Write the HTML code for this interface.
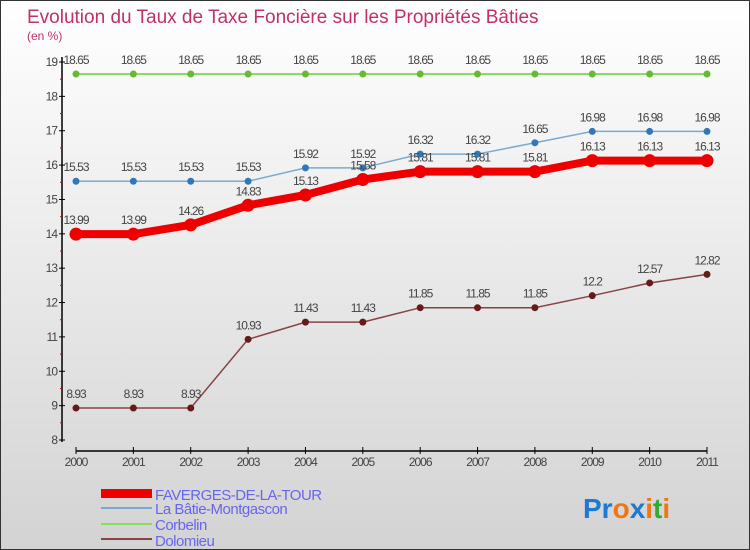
<!DOCTYPE html>
<html><head><meta charset="utf-8"><style>
body{margin:0}
#c{width:748px;height:548px;border:1px solid #333;background:linear-gradient(#ffffff,#d3d3d3);position:relative;overflow:hidden;font-family:"Liberation Sans",sans-serif}
</style></head><body>
<div id="c">
<svg id="s" width="748" height="548">
<text x="26" y="22" font-size="19" fill="#c0306a">Evolution du Taux de Taxe Foncière sur les Propriétés Bâties</text>
<text x="26" y="39" font-size="12" fill="#c0306a">(en %)</text>
<g id="axes"></g><g id="series"></g>
<g>
<rect x="100" y="488" width="51" height="9" fill="#ee0000"/>
<text x="154" y="499" font-size="15" fill="#6666ee" letter-spacing="-0.5">FAVERGES-DE-LA-TOUR</text>
<line x1="100" y1="507" x2="151" y2="507" stroke="#7aaad0" stroke-width="2"/>
<text x="154" y="513" font-size="15" fill="#6666ee" letter-spacing="-0.5">La Bâtie-Montgascon</text>
<line x1="100" y1="523" x2="151" y2="523" stroke="#88dd66" stroke-width="2"/>
<text x="154" y="529" font-size="15" fill="#6666ee" letter-spacing="-0.5">Corbelin</text>
<line x1="100" y1="538" x2="151" y2="538" stroke="#884444" stroke-width="2"/>
<text x="154" y="545" font-size="15" fill="#6666ee" letter-spacing="-0.5">Dolomieu</text>
</g>
<text x="582" y="517" font-size="28" font-weight="bold"><tspan fill="#1a7ad4">Pr</tspan><tspan fill="#ee7711">o</tspan><tspan fill="#1a7ad4">x</tspan><tspan fill="#ee7711">i</tspan><tspan fill="#33aa33">t</tspan><tspan fill="#ee7711">i</tspan></text>
</svg></div>
<script>
const years=["2000","2001","2002","2003","2004","2005","2006","2007","2008","2009","2010","2011"];
const yTicks=[8,9,10,11,12,13,14,15,16,17,18,19];
const faverges=[13.99,13.99,14.26,14.83,15.13,15.58,15.81,15.81,15.81,16.13,16.13,16.13];
const batie=[15.53,15.53,15.53,15.53,15.92,15.92,16.32,16.32,16.65,16.98,16.98,16.98];
const corbelin=[18.65,18.65,18.65,18.65,18.65,18.65,18.65,18.65,18.65,18.65,18.65,18.65];
const dolomieu=[8.93,8.93,8.93,10.93,11.43,11.43,11.85,11.85,11.85,12.2,12.57,12.82];
const NS="http://www.w3.org/2000/svg";
function X(i){return 75+i*(706-75)/(years.length-1);}
function Y(v){return 439-(v-8)*(439-61)/11;}
function mk(t,a,p){const e=document.createElementNS(NS,t);for(const k in a)e.setAttribute(k,a[k]);p.appendChild(e);return e;}
const ax=document.getElementById('axes');
const yl=mk('line',{x1:61,y1:56,x2:61,y2:441,stroke:'#000','stroke-width':1.5},ax);


const xl=mk('line',{x1:75,y1:450,x2:706,y2:450,stroke:'#000','stroke-width':1.5},ax);


yTicks.forEach(v=>{
 mk('line',{x1:58,y1:Y(v),x2:64,y2:Y(v),stroke:'#000'},ax);
 if(v<19)mk('line',{x1:59,y1:Y(v+0.5),x2:61,y2:Y(v+0.5),stroke:'#d00'},ax);
 const t=mk('text',{x:56,y:Y(v)+4,'font-size':12,fill:'#444','text-anchor':'end','letter-spacing':'-1'},ax);
 t.textContent=v;
 
 
});
years.forEach((y,i)=>{
 mk('line',{x1:X(i),y1:446,x2:X(i),y2:453,stroke:'#000'},ax);
 const t=mk('text',{x:X(i),y:465,'font-size':12,fill:'#444','text-anchor':'middle','letter-spacing':'-1'},ax);
 t.textContent=y;
 
 
});
const sg=document.getElementById('series');
function draw(vals,name,color,w,r,dot){
 const g=mk('g',{},sg);
 
 
 const l=mk('polyline',{points:vals.map((v,i)=>X(i)+','+Y(v)).join(' '),fill:'none',stroke:color,'stroke-width':w},g);
 
 
 vals.forEach((v,i)=>{
  const c=mk('circle',{cx:X(i),cy:Y(v),r:r,fill:dot},g);
  
  
  const t=mk('text',{x:X(i),y:Y(v)-10,'font-size':12,fill:'#444','text-anchor':'middle','letter-spacing':'-1'},g);
  t.textContent=v;
  
  
 });
}
draw(corbelin,'corbelin','#88dd66',2,3.5,'#66bb33');
draw(batie,'batie','#7aaad0',1.5,3.5,'#3377bb');
draw(dolomieu,'dolomieu','#884444',1.5,3.5,'#661a1a');
draw(faverges,'faverges','#ee0000',8,6.5,'#ee0000');
</script>
</body></html>
